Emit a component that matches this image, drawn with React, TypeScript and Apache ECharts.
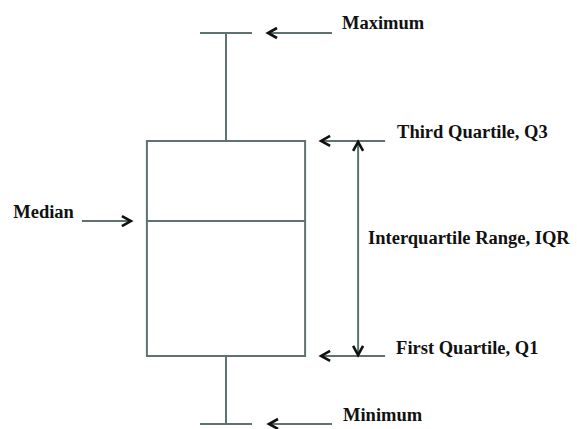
import React, { useEffect, useRef } from "react";
import * as echarts from "echarts";

// Five-number summary (schematic values on a hidden 0–100 scale)
const statKeys = ["min", "q1", "median", "q3", "max"];
const statLabels = ["Minimum", "First Quartile, Q1", "Median", "Third Quartile, Q3", "Maximum"];
const statValues = [0, 17.4, 51.9, 72.4, 100];
const iqrLabel = "Interquartile Range, IQR";
const categories = [""];

const LINE = "#5f7272";
const INK = "#111111";
const FONT = "bold 18.5px 'Liberation Serif', 'Times New Roman', serif";

function hLine(x1: number, x2: number, y: number) {
  return { type: "line", shape: { x1, y1: y, x2, y2: y }, style: { stroke: LINE, lineWidth: 2 } };
}
function vLine(x: number, y1: number, y2: number) {
  return { type: "line", shape: { x1: x, y1, x2: x, y2 }, style: { stroke: LINE, lineWidth: 2 } };
}
function chevron(points: number[][]) {
  return {
    type: "polyline",
    shape: { points },
    style: { stroke: INK, fill: "none", lineWidth: 2.6, lineJoin: "miter" },
  };
}
function arrowLeft(tip: number, tail: number, y: number) {
  return [hLine(tip, tail, y), chevron([[tip + 10, y - 5], [tip + 1, y], [tip + 10, y + 5]])];
}
function arrowRight(tail: number, tip: number, y: number) {
  return [hLine(tail, tip, y), chevron([[tip - 10, y - 5], [tip - 1, y], [tip - 10, y + 5]])];
}
function label(text: string, x: number, y: number, align = "left") {
  return {
    type: "text",
    style: { text, x, y, font: FONT, fill: INK, align, verticalAlign: "middle" },
  };
}

export default function App() {
  const ref = useRef<HTMLDivElement>(null);

  useEffect(() => {
    if (!ref.current) return;
    const chart = echarts.init(ref.current, null, { renderer: "svg" });

    const renderItem = (params: any, api: any) => {
      const cx = api.coord([api.value(0), api.value(1)])[0];
      const band = api.size([1, 0])[0];
      const boxW = band * 0.35;
      const capW = band * 0.115;
      const yMin = api.coord([api.value(0), api.value(1)])[1];
      const yQ1 = api.coord([api.value(0), api.value(2)])[1];
      const yMed = api.coord([api.value(0), api.value(3)])[1];
      const yQ3 = api.coord([api.value(0), api.value(4)])[1];
      const yMax = api.coord([api.value(0), api.value(5)])[1];
      const left = cx - boxW / 2;
      const right = cx + boxW / 2;
      const iqrX = right + 53;

      const children: any[] = [
        // whiskers
        vLine(cx, yMax, yQ3),
        vLine(cx, yQ1, yMin),
        hLine(cx - capW / 2, cx + capW / 2, yMax),
        hLine(cx - capW / 2, cx + capW / 2, yMin),
        // box
        {
          type: "rect",
          shape: { x: left, y: yQ3, width: boxW, height: yQ1 - yQ3 },
          style: { stroke: LINE, fill: "#ffffff", lineWidth: 2 },
        },
        hLine(left, right, yMed),
        // annotations
        ...arrowLeft(cx + 41, cx + 106, yMax),
        label(statLabels[4], cx + 116, yMax - 10),
        ...arrowLeft(right + 15, right + 80, yQ3),
        label(statLabels[3], right + 92, yQ3 - 9),
        ...arrowLeft(right + 15, right + 80, yQ1),
        label(statLabels[1], right + 91, yQ1 - 8),
        ...arrowLeft(cx + 42, cx + 106, yMin),
        label(statLabels[0], cx + 117, yMin - 9),
        ...arrowRight(left - 65, left - 15, yMed),
        label(statLabels[2], left - 73, yMed - 9, "right"),
        // IQR double arrow
        vLine(iqrX, yQ3, yQ1),
        chevron([[iqrX - 5, yQ3 + 10], [iqrX, yQ3 + 1], [iqrX + 5, yQ3 + 10]]),
        chevron([[iqrX - 5, yQ1 - 10], [iqrX, yQ1 - 1], [iqrX + 5, yQ1 - 10]]),
        label(iqrLabel, iqrX + 10, (yQ3 + yQ1) / 2 - 10),
      ];
      return { type: "group", children };
    };

    chart.setOption({
      animation: false,
      backgroundColor: "#ffffff",
      grid: { left: 0, top: 33, width: 452, height: 391 },
      xAxis: { type: "category", data: categories, show: false },
      yAxis: { type: "value", min: 0, max: 100, show: false },
      series: [
        {
          type: "custom",
          name: statKeys.join(","),
          clip: false,
          renderItem,
          encode: { x: 0, y: [1, 2, 3, 4, 5] },
          data: [[0, ...statValues]],
        },
      ],
    });

    return () => chart.dispose();
  }, []);

  return (
    <div
      ref={ref}
      style={{ position: "fixed", left: 0, top: 0, width: 577, height: 429, background: "#fff" }}
    />
  );
}
